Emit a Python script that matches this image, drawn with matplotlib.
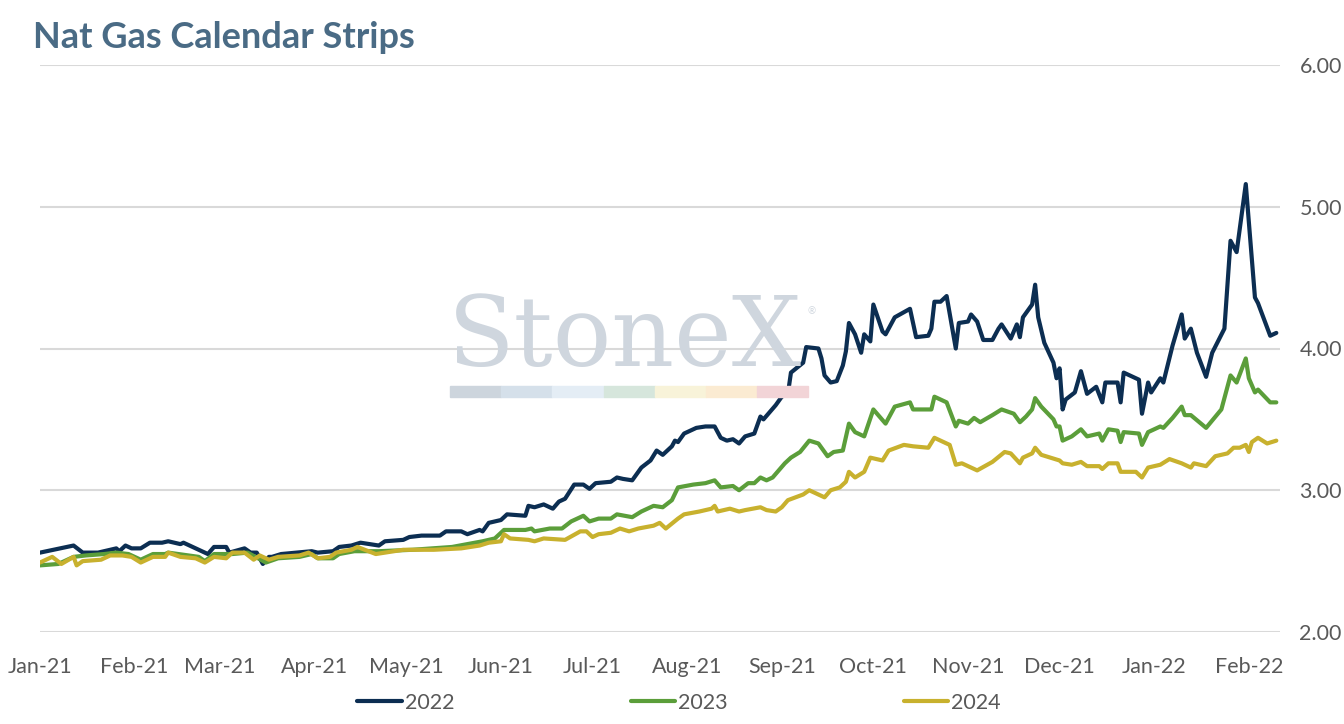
"""Nat Gas Calendar Strips — 2022/2023/2024 strip prices, Jan-21 .. Feb-22."""
import pandas as pd
import matplotlib
matplotlib.use("Agg")
import matplotlib.pyplot as plt
import matplotlib.dates as mdates
from matplotlib.patches import Rectangle

plt.rcParams.update({"font.family": ["Lato", "DejaVu Sans"], "axes.unicode_minus": False})

TITLE = "Nat Gas Calendar Strips"
LABELS = ["2022", "2023", "2024"]
COLORS = ["#0c2e52", "#5b9e3a", "#c8b12e"]
Y_TICKS = [2.0, 3.0, 4.0, 5.0, 6.0]

# --- Cal 2022 strip
d22 = ["2021-01-01", "2021-01-12", "2021-01-15", "2021-01-20", "2021-01-26", "2021-01-27", "2021-01-29",
       "2021-01-31", "2021-02-03", "2021-02-06", "2021-02-10", "2021-02-12", "2021-02-16", "2021-02-17",
       "2021-02-21", "2021-02-25", "2021-02-27", "2021-03-03", "2021-03-04", "2021-03-09", "2021-03-11",
       "2021-03-13", "2021-03-15", "2021-03-17", "2021-03-18", "2021-03-21", "2021-03-26", "2021-03-31",
       "2021-04-02", "2021-04-07", "2021-04-09", "2021-04-13", "2021-04-16", "2021-04-22", "2021-04-24",
       "2021-04-30", "2021-05-02", "2021-05-06", "2021-05-12", "2021-05-14", "2021-05-19", "2021-05-21",
       "2021-05-25", "2021-05-26", "2021-05-28", "2021-06-01", "2021-06-03", "2021-06-09", "2021-06-10",
       "2021-06-12", "2021-06-15", "2021-06-18", "2021-06-20", "2021-06-22", "2021-06-25", "2021-06-28",
       "2021-06-30", "2021-07-02", "2021-07-07", "2021-07-09", "2021-07-11", "2021-07-14", "2021-07-17",
       "2021-07-20", "2021-07-22", "2021-07-24", "2021-07-27", "2021-07-28", "2021-07-29", "2021-07-31",
       "2021-08-04", "2021-08-07", "2021-08-10", "2021-08-12", "2021-08-14", "2021-08-16", "2021-08-18",
       "2021-08-20", "2021-08-23", "2021-08-25", "2021-08-26", "2021-08-30", "2021-09-01", "2021-09-03",
       "2021-09-04", "2021-09-08", "2021-09-09", "2021-09-13", "2021-09-14", "2021-09-15", "2021-09-17",
       "2021-09-19", "2021-09-21", "2021-09-22", "2021-09-23", "2021-09-25", "2021-09-27", "2021-09-28",
       "2021-09-30", "2021-10-01", "2021-10-04", "2021-10-05", "2021-10-08", "2021-10-13", "2021-10-15",
       "2021-10-19", "2021-10-20", "2021-10-21", "2021-10-23", "2021-10-25", "2021-10-28", "2021-10-29",
       "2021-11-01", "2021-11-02", "2021-11-04", "2021-11-06", "2021-11-09", "2021-11-11", "2021-11-12",
       "2021-11-15", "2021-11-17", "2021-11-18", "2021-11-19", "2021-11-22", "2021-11-23", "2021-11-24",
       "2021-11-26", "2021-11-29", "2021-11-30", "2021-12-01", "2021-12-02", "2021-12-03", "2021-12-06",
       "2021-12-08", "2021-12-10", "2021-12-13", "2021-12-15", "2021-12-16", "2021-12-20", "2021-12-21",
       "2021-12-22", "2021-12-27", "2021-12-28", "2021-12-30", "2021-12-31", "2022-01-03", "2022-01-04",
       "2022-01-07", "2022-01-10", "2022-01-11", "2022-01-13", "2022-01-15", "2022-01-18", "2022-01-20",
       "2022-01-24", "2022-01-26", "2022-01-28", "2022-01-31", "2022-02-03", "2022-02-04", "2022-02-08",
       "2022-02-10"]
v22 = [2.56, 2.61, 2.56, 2.56, 2.59, 2.57, 2.61,
       2.59, 2.59, 2.63, 2.63, 2.64, 2.62, 2.63,
       2.59, 2.55, 2.60, 2.60, 2.56, 2.59, 2.56,
       2.56, 2.48, 2.53, 2.53, 2.55, 2.56, 2.57,
       2.56, 2.57, 2.60, 2.61, 2.63, 2.61, 2.64,
       2.65, 2.67, 2.68, 2.68, 2.71, 2.71, 2.69,
       2.72, 2.71, 2.77, 2.79, 2.83, 2.82, 2.89,
       2.88, 2.90, 2.87, 2.92, 2.94, 3.04, 3.04,
       3.01, 3.05, 3.06, 3.09, 3.08, 3.07, 3.16,
       3.21, 3.28, 3.25, 3.31, 3.35, 3.34, 3.40,
       3.44, 3.45, 3.45, 3.37, 3.35, 3.36, 3.33,
       3.38, 3.40, 3.52, 3.50, 3.60, 3.66, 3.68,
       3.83, 3.90, 4.01, 4.00, 3.93, 3.81, 3.76,
       3.77, 3.88, 3.98, 4.18, 4.10, 3.97, 4.10,
       4.05, 4.31, 4.12, 4.10, 4.22, 4.28, 4.08,
       4.09, 4.14, 4.33, 4.33, 4.37, 4.00, 4.18,
       4.19, 4.24, 4.19, 4.06, 4.06, 4.14, 4.17,
       4.07, 4.17, 4.08, 4.22, 4.31, 4.45, 4.22,
       4.04, 3.90, 3.79, 3.86, 3.57, 3.64, 3.69,
       3.84, 3.68, 3.73, 3.62, 3.76, 3.76, 3.62,
       3.83, 3.78, 3.54, 3.76, 3.69, 3.79, 3.76,
       4.02, 4.24, 4.07, 4.14, 3.97, 3.80, 3.97,
       4.14, 4.76, 4.68, 5.16, 4.36, 4.32, 4.09,
       4.11]

# --- Cal 2023 strip
d23 = ["2021-01-01", "2021-01-07", "2021-01-12", "2021-01-16", "2021-01-22", "2021-01-26", "2021-01-30",
       "2021-02-03", "2021-02-07", "2021-02-11", "2021-02-12", "2021-02-22", "2021-02-24", "2021-02-27",
       "2021-03-05", "2021-03-10", "2021-03-16", "2021-03-20", "2021-03-27", "2021-03-31", "2021-04-02",
       "2021-04-07", "2021-04-09", "2021-04-14", "2021-04-22", "2021-05-03", "2021-05-16", "2021-05-26",
       "2021-05-30", "2021-06-02", "2021-06-09", "2021-06-11", "2021-06-12", "2021-06-17", "2021-06-21",
       "2021-06-24", "2021-06-28", "2021-06-30", "2021-07-03", "2021-07-07", "2021-07-09", "2021-07-14",
       "2021-07-17", "2021-07-21", "2021-07-24", "2021-07-27", "2021-07-29", "2021-08-03", "2021-08-07",
       "2021-08-10", "2021-08-12", "2021-08-16", "2021-08-18", "2021-08-21", "2021-08-23", "2021-08-25",
       "2021-08-27", "2021-08-29", "2021-09-02", "2021-09-04", "2021-09-07", "2021-09-10", "2021-09-13",
       "2021-09-16", "2021-09-18", "2021-09-21", "2021-09-23", "2021-09-25", "2021-09-28", "2021-10-01",
       "2021-10-05", "2021-10-08", "2021-10-13", "2021-10-14", "2021-10-19", "2021-10-20", "2021-10-21",
       "2021-10-25", "2021-10-28", "2021-10-29", "2021-11-01", "2021-11-03", "2021-11-05", "2021-11-09",
       "2021-11-12", "2021-11-16", "2021-11-18", "2021-11-20", "2021-11-22", "2021-11-23", "2021-11-25",
       "2021-11-29", "2021-11-30", "2021-12-01", "2021-12-02", "2021-12-05", "2021-12-08", "2021-12-10",
       "2021-12-14", "2021-12-15", "2021-12-17", "2021-12-20", "2021-12-21", "2021-12-22", "2021-12-27",
       "2021-12-28", "2021-12-30", "2022-01-03", "2022-01-04", "2022-01-07", "2022-01-10", "2022-01-11",
       "2022-01-13", "2022-01-18", "2022-01-23", "2022-01-26", "2022-01-28", "2022-01-31", "2022-02-01",
       "2022-02-03", "2022-02-04", "2022-02-08", "2022-02-10"]
v23 = [2.47, 2.48, 2.53, 2.54, 2.55, 2.56, 2.55,
       2.51, 2.55, 2.55, 2.56, 2.53, 2.50, 2.55,
       2.55, 2.56, 2.49, 2.52, 2.53, 2.55, 2.52,
       2.52, 2.55, 2.57, 2.57, 2.58, 2.60, 2.64,
       2.66, 2.72, 2.72, 2.73, 2.71, 2.73, 2.73,
       2.78, 2.82, 2.78, 2.80, 2.80, 2.83, 2.81,
       2.85, 2.89, 2.88, 2.93, 3.02, 3.04, 3.05,
       3.07, 3.02, 3.03, 3.00, 3.05, 3.05, 3.09,
       3.07, 3.09, 3.19, 3.23, 3.27, 3.35, 3.33,
       3.24, 3.27, 3.28, 3.47, 3.41, 3.38, 3.57,
       3.47, 3.59, 3.62, 3.57, 3.57, 3.57, 3.66,
       3.62, 3.45, 3.49, 3.47, 3.51, 3.48, 3.53,
       3.57, 3.54, 3.48, 3.52, 3.57, 3.65, 3.59,
       3.50, 3.45, 3.45, 3.35, 3.38, 3.43, 3.38,
       3.40, 3.35, 3.43, 3.42, 3.34, 3.41, 3.40,
       3.32, 3.41, 3.45, 3.44, 3.51, 3.59, 3.53,
       3.53, 3.44, 3.57, 3.81, 3.76, 3.93, 3.79,
       3.69, 3.71, 3.62, 3.62]

# --- Cal 2024 strip
d24 = ["2021-01-01", "2021-01-05", "2021-01-08", "2021-01-12", "2021-01-13", "2021-01-15", "2021-01-21",
       "2021-01-24", "2021-01-28", "2021-01-31", "2021-02-03", "2021-02-07", "2021-02-11", "2021-02-12",
       "2021-02-16", "2021-02-21", "2021-02-24", "2021-02-27", "2021-03-03", "2021-03-05", "2021-03-09",
       "2021-03-12", "2021-03-14", "2021-03-17", "2021-03-20", "2021-03-27", "2021-03-30", "2021-04-02",
       "2021-04-06", "2021-04-08", "2021-04-13", "2021-04-15", "2021-04-21", "2021-04-30", "2021-05-10",
       "2021-05-19", "2021-05-25", "2021-05-28", "2021-06-01", "2021-06-02", "2021-06-04", "2021-06-10",
       "2021-06-12", "2021-06-15", "2021-06-22", "2021-06-27", "2021-06-29", "2021-07-01", "2021-07-03",
       "2021-07-07", "2021-07-10", "2021-07-13", "2021-07-16", "2021-07-21", "2021-07-23", "2021-07-25",
       "2021-07-29", "2021-07-31", "2021-08-05", "2021-08-09", "2021-08-10", "2021-08-11", "2021-08-15",
       "2021-08-18", "2021-08-20", "2021-08-25", "2021-08-27", "2021-08-30", "2021-09-01", "2021-09-03",
       "2021-09-08", "2021-09-10", "2021-09-15", "2021-09-17", "2021-09-20", "2021-09-22", "2021-09-23",
       "2021-09-25", "2021-09-28", "2021-09-30", "2021-10-04", "2021-10-06", "2021-10-11", "2021-10-14",
       "2021-10-19", "2021-10-21", "2021-10-26", "2021-10-28", "2021-10-30", "2021-11-02", "2021-11-04",
       "2021-11-09", "2021-11-13", "2021-11-15", "2021-11-18", "2021-11-19", "2021-11-22", "2021-11-23",
       "2021-11-25", "2021-12-01", "2021-12-02", "2021-12-05", "2021-12-08", "2021-12-10", "2021-12-14",
       "2021-12-15", "2021-12-17", "2021-12-20", "2021-12-21", "2021-12-26", "2021-12-28", "2021-12-30",
       "2022-01-03", "2022-01-06", "2022-01-10", "2022-01-13", "2022-01-14", "2022-01-18", "2022-01-21",
       "2022-01-25", "2022-01-27", "2022-01-29", "2022-01-31", "2022-02-01", "2022-02-02", "2022-02-04",
       "2022-02-07", "2022-02-10"]
v24 = [2.49, 2.53, 2.48, 2.53, 2.47, 2.50, 2.51,
       2.54, 2.54, 2.53, 2.49, 2.53, 2.53, 2.56,
       2.53, 2.52, 2.49, 2.53, 2.52, 2.56, 2.56,
       2.51, 2.54, 2.51, 2.53, 2.54, 2.56, 2.52,
       2.53, 2.56, 2.58, 2.60, 2.55, 2.58, 2.58,
       2.59, 2.61, 2.63, 2.64, 2.69, 2.66, 2.65,
       2.64, 2.66, 2.65, 2.71, 2.71, 2.67, 2.69,
       2.70, 2.73, 2.71, 2.73, 2.75, 2.77, 2.73,
       2.80, 2.83, 2.85, 2.87, 2.89, 2.85, 2.87,
       2.85, 2.86, 2.88, 2.86, 2.85, 2.88, 2.93,
       2.97, 3.00, 2.95, 3.00, 3.02, 3.06, 3.13,
       3.09, 3.13, 3.23, 3.21, 3.28, 3.32, 3.31,
       3.30, 3.37, 3.32, 3.18, 3.19, 3.16, 3.14,
       3.20, 3.27, 3.26, 3.19, 3.23, 3.26, 3.30,
       3.25, 3.21, 3.19, 3.18, 3.20, 3.17, 3.17,
       3.15, 3.19, 3.19, 3.13, 3.13, 3.09, 3.16,
       3.18, 3.22, 3.19, 3.16, 3.19, 3.17, 3.24,
       3.26, 3.30, 3.30, 3.32, 3.27, 3.34, 3.37,
       3.33, 3.35]

# watermark colour strip below the StoneX logo
LOGO_STRIP = ["#cdd5dd", "#d5e0ea", "#e4edf5", "#d6e6dc", "#f8f3d9", "#fbebd2", "#f2d4d7"]

W, H = 1344, 724
fig = plt.figure(figsize=(W / 100, H / 100), dpi=100)
ax = fig.add_axes([40 / W, 1 - 632 / H, 1240 / W, 567 / H])

# watermark (behind everything)
fig.text(448 / W, 1 - 366 / H, "StoneX", family="DejaVu Serif", fontsize=70,
         color="#cfd6de", ha="left", va="baseline", zorder=0)
fig.text(808 / W, 1 - 312 / H, "®", fontsize=7, color="#cfd6de", ha="left", va="center", zorder=0)
seg = 51.2 / W
for i, c in enumerate(LOGO_STRIP):
    fig.patches.append(Rectangle((450 / W + i * seg, 1 - 397 / H), seg, 11 / H,
                                 transform=fig.transFigure, color=c, zorder=0))
ax.set_facecolor("none")

for dates, vals, lab, col in zip([d22, d23, d24], [v22, v23, v24], LABELS, COLORS):
    ax.plot(pd.to_datetime(dates), vals, color=col, lw=3.0, label=lab,
            solid_joinstyle="round", solid_capstyle="round", zorder=3)

ax.set_ylim(2, 6)
ax.set_xlim(pd.Timestamp("2021-01-01"), pd.Timestamp("2022-02-11 05:00"))
ax.set_yticks(Y_TICKS)
ax.yaxis.set_major_formatter(plt.FuncFormatter(lambda v, _: f"{v:.2f}"))
ax.yaxis.tick_right()
ax.grid(axis="y", color="#d9d9d9", lw=1.5, zorder=1)
ax.set_axisbelow(True)
for s in ax.spines.values():
    s.set_visible(False)
ax.xaxis.set_major_locator(mdates.MonthLocator())
ax.xaxis.set_major_formatter(mdates.DateFormatter("%b-%y"))
ax.tick_params(axis="both", length=0, labelsize=15.5, labelcolor="#595959")
ax.tick_params(axis="x", pad=18)
ax.tick_params(axis="y", pad=14)

fig.text(33 / W, 1 - 48 / H, TITLE, fontsize=26, fontweight="bold", color="#4a6b85",
         ha="left", va="baseline")

fig.legend(loc="center", bbox_to_anchor=(679 / W, 1 - 703 / H), ncol=3, frameon=False,
           fontsize=15.5, labelcolor="#595959", handlelength=2.05, handletextpad=0.14,
           columnspacing=8.2)

fig.savefig("out.png", dpi=100)
